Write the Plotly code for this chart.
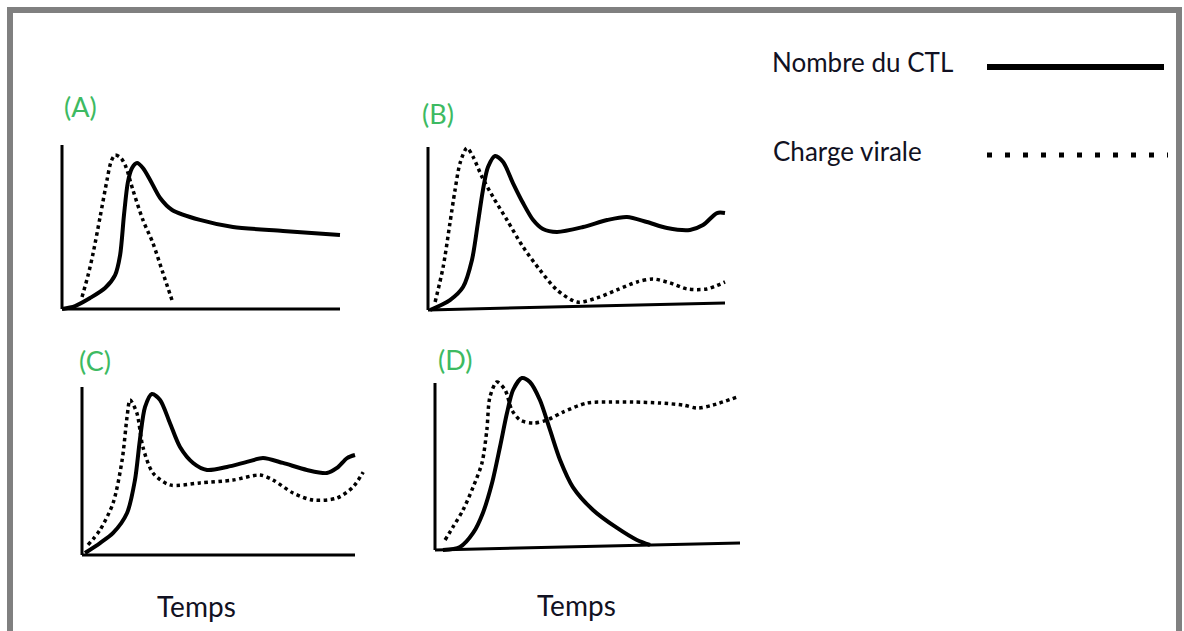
import plotly.graph_objects as go

W, H = 1184, 631

# ---------------- data (normalised units: x 0-100 along time axis, y 0-100 along vertical axis)
panel_names = ["(A)", "(B)", "(C)", "(D)"]
legend_labels = ["Nombre du CTL", "Charge virale"]
xlabel = "Temps"

ctl_A_x = [0, 4.7, 10.1, 15.5, 19.1, 20.9, 22.3, 23.7, 25.2, 27.0, 29.1, 31.7, 35.3, 39.6, 49.6, 61.5, 79.5, 100]
ctl_A_y = [0, 1.8, 6.7, 12.8, 20.7, 32.9, 57.3, 77.4, 86.0, 89.0, 86.0, 78.7, 67.7, 60.4, 54.3, 50.0, 47.6, 45.1]
vir_A_x = [7.2, 9.4, 11.2, 13.7, 16.2, 17.6, 19.1, 21.2, 23.0, 25.5, 29.1, 32.7, 36.3, 39.9]
vir_A_y = [7.3, 20.7, 34.1, 56.1, 78.7, 89.6, 93.9, 92.1, 86.6, 72.6, 54.3, 40.2, 22.0, 3.7]

ctl_B_x = [0.7, 7.4, 11.8, 14.8, 16.8, 18.5, 20.2, 22.6, 25.3, 28.6, 32.0, 35.4, 38.7, 43.4, 52.2, 60.3, 67.0, 73.7, 80.5, 88.2, 92.6, 97.3, 100]
ctl_B_y = [0, 6.1, 14.1, 30.7, 53.4, 73.6, 87.7, 94.5, 90.8, 77.9, 65.6, 55.2, 49.7, 47.9, 50.9, 55.2, 57.1, 54.0, 50.3, 49.1, 52.1, 59.5, 59.5]
vir_B_x = [2.4, 5.1, 7.4, 9.1, 10.8, 13.1, 15.2, 18.2, 21.9, 26.6, 32.0, 37.7, 43.4, 50.2, 56.9, 63.6, 70.4, 75.8, 81.5, 87.2, 93.9, 100]
vir_B_y = [4.9, 26.4, 53.4, 73.6, 90.2, 99.4, 93.9, 81.6, 69.3, 55.2, 38.7, 24.5, 12.3, 4.9, 7.4, 12.3, 17.2, 19.0, 16.6, 12.9, 12.9, 17.2]

ctl_C_x = [1.1, 6.6, 11.4, 16.5, 19.4, 21.2, 23.1, 25.6, 28.6, 32.2, 35.9, 40.7, 45.8, 53.1, 60.4, 66.3, 73.6, 82.4, 89.7, 93.4, 97.1, 100]
ctl_C_y = [1.2, 7.1, 13.1, 25.0, 44.6, 68.5, 88.1, 95.8, 92.3, 78.6, 64.3, 54.8, 50.6, 52.4, 55.4, 57.7, 54.8, 50.6, 48.8, 51.8, 57.7, 59.5]
vir_C_x = [2.2, 6.6, 11.4, 14.7, 16.5, 17.6, 20.1, 22.3, 26.0, 32.2, 43.2, 55.3, 65.2, 70.0, 77.3, 84.6, 93.4, 99.3, 103]
vir_C_y = [6.0, 14.9, 31.0, 56.5, 82.1, 92.3, 84.5, 64.3, 48.8, 41.7, 42.9, 44.6, 47.6, 44.6, 36.9, 32.7, 33.9, 40.5, 49.4]

ctl_D_x = [2.6, 8.2, 12.5, 15.7, 18.7, 21.3, 23.6, 25.6, 28.5, 31.1, 34.4, 37.7, 41.0, 45.2, 51.8, 59.7, 66.2, 70.5]
ctl_D_y = [0, 1.8, 10.2, 22.2, 40.1, 61.7, 82.0, 95.8, 103.0, 100.6, 89.8, 71.9, 53.9, 37.7, 24.0, 13.2, 6.0, 3.0]
vir_D_x = [3.3, 5.9, 9.2, 12.5, 15.4, 17.0, 18.0, 20.3, 23.0, 25.2, 27.9, 32.1, 36.7, 42.0, 49.8, 57.4, 64.9, 73.8, 81.3, 85.9, 91.1, 99.0]
vir_D_y = [6.0, 13.8, 24.0, 37.7, 52.1, 71.9, 91.6, 100.6, 95.8, 83.8, 77.8, 76.0, 77.8, 82.6, 88.0, 88.6, 88.6, 88.0, 86.8, 85.0, 86.8, 91.6]

panels = [
    (ctl_A_x, ctl_A_y, vir_A_x, vir_A_y),
    (ctl_B_x, ctl_B_y, vir_B_x, vir_B_y),
    (ctl_C_x, ctl_C_y, vir_C_x, vir_C_y),
    (ctl_D_x, ctl_D_y, vir_D_x, vir_D_y),
]

# ---------------- layout geometry (pixels): origin, px per unit, x-axis right-end rise
geom = [
    dict(ox=62, oy=309, sx=2.78, sy=1.64, rise=0.0),
    dict(ox=428, oy=310, sx=2.97, sy=1.63, rise=4.3),
    dict(ox=82, oy=555, sx=2.73, sy=1.68, rise=0.0),
    dict(ox=435, oy=550, sx=3.05, sy=1.67, rise=4.2),
]
XR = (-6, 106)
YR = (-6, 110)

FONT = "Lato"
TEXT_COLOR = "#111122"

fig = go.Figure()
shapes = []
annotations = []
layout_axes = {}

for i, (g, (cx, cy, vx, vy)) in enumerate(zip(geom, panels)):
    n = i + 1
    xa = "x" if n == 1 else f"x{n}"
    ya = "y" if n == 1 else f"y{n}"
    fig.add_trace(go.Scatter(x=cx, y=cy, mode="lines", line=dict(color="black", width=4, shape="spline", smoothing=0.8),
                             xaxis=xa, yaxis=ya, showlegend=False, hoverinfo="skip"))
    fig.add_trace(go.Scatter(x=vx, y=vy, mode="lines", line=dict(color="black", width=3.5, dash="3.5px,3.5px", shape="spline", smoothing=0.8),
                             xaxis=xa, yaxis=ya, showlegend=False, hoverinfo="skip"))
    x0 = (g["ox"] + XR[0] * g["sx"]) / W
    x1 = (g["ox"] + XR[1] * g["sx"]) / W
    y0 = 1 - (g["oy"] - YR[0] * g["sy"]) / H
    y1 = 1 - (g["oy"] - YR[1] * g["sy"]) / H
    ax_common = dict(showgrid=False, zeroline=False, showline=False, showticklabels=False, ticks="")
    layout_axes["xaxis" if n == 1 else f"xaxis{n}"] = dict(domain=[x0, x1], range=list(XR), anchor=ya, **ax_common)
    layout_axes["yaxis" if n == 1 else f"yaxis{n}"] = dict(domain=[y0, y1], range=list(YR), anchor=xa, **ax_common)
    # axis lines
    shapes.append(dict(type="line", xref=xa, yref=ya, x0=0, y0=0, x1=0, y1=100, line=dict(color="black", width=3)))
    shapes.append(dict(type="line", xref=xa, yref=ya, x0=0, y0=0, x1=100, y1=g["rise"], line=dict(color="black", width=3)))

# panel labels
label_pos = [(80, 106), (438, 113), (95, 361), (455, 359)]
for name, (px, py) in zip(panel_names, label_pos):
    annotations.append(dict(text=name, x=px / W, y=1 - py / H, xref="paper", yref="paper", showarrow=False,
                            font=dict(family=FONT, size=27, color="#3dba62"), xanchor="center", yanchor="middle"))

# Temps labels
for px, py in [(196, 606), (576, 605)]:
    annotations.append(dict(text=xlabel, x=px / W, y=1 - py / H, xref="paper", yref="paper", showarrow=False,
                            font=dict(family=FONT, size=28, color=TEXT_COLOR), xanchor="center", yanchor="middle"))

# legend (text left, line sample right)
annotations.append(dict(text=legend_labels[0], x=770 / W, y=1 - 62 / H, xref="paper", yref="paper", showarrow=False,
                        font=dict(family=FONT, size=26, color=TEXT_COLOR), xanchor="left", yanchor="middle"))
annotations.append(dict(text=legend_labels[1], x=771 / W, y=1 - 151 / H, xref="paper", yref="paper", showarrow=False,
                        font=dict(family=FONT, size=26, color=TEXT_COLOR), xanchor="left", yanchor="middle"))
shapes.append(dict(type="line", xref="paper", yref="paper", x0=987 / W, x1=1164 / W, y0=1 - 67 / H, y1=1 - 67 / H,
                   line=dict(color="black", width=6)))
shapes.append(dict(type="line", xref="paper", yref="paper", x0=987 / W, x1=1168 / W, y0=1 - 155 / H, y1=1 - 155 / H,
                   line=dict(color="black", width=5, dash="5px,13px")))

# gray frame
shapes.append(dict(type="rect", xref="paper", yref="paper", x0=10 / W, x1=1179 / W, y0=1 - 645 / H, y1=1 - 10 / H,
                   line=dict(color="#808080", width=6), fillcolor="rgba(0,0,0,0)"))

fig.update_layout(width=W, height=H, margin=dict(l=0, r=0, t=0, b=0), paper_bgcolor="white", plot_bgcolor="white",
                  shapes=shapes, annotations=annotations, **layout_axes)

fig.write_html("out.html", config={"displayModeBar": False},
               post_script="document.body.style.margin='0';document.body.style.overflow='hidden';")
